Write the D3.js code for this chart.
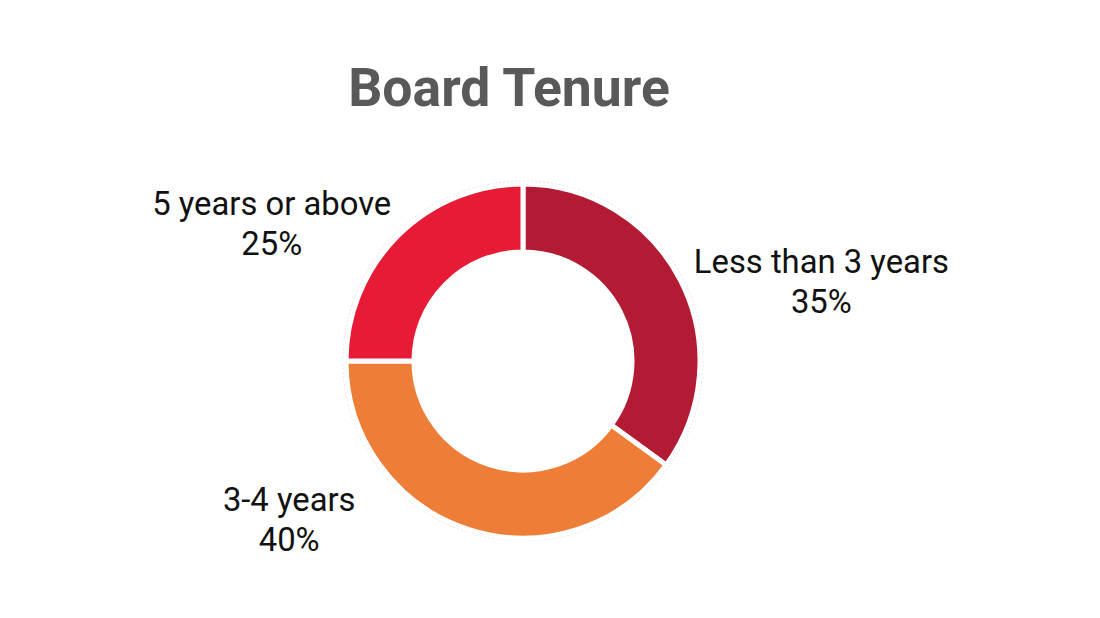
<!DOCTYPE html>
<html><head><meta charset="utf-8">
<script src="https://cdn.jsdelivr.net/npm/d3@7"></script>
<style>html,body{margin:0;padding:0;background:#fff;}svg{display:block;}</style>
</head><body>
<svg id="chart" width="1100" height="618"></svg>
<script>
const categories = ["Less than 3 years", "3-4 years", "5 years or above"];
const values = [35, 40, 25];
const colors = ["#B31B34", "#EE7D37", "#E81B36"];
const titleText = "Board Tenure";

const svg = d3.select("#chart");
const cx = 523, cy = 361, R = 177, r = 109;

svg.append("text").attr("x", 509).attr("y", 106).attr("text-anchor", "middle")
  .attr("font-family", "Roboto").attr("font-weight", 700).attr("font-size", 53.5)
  .attr("fill", "#595959").text(titleText);

const data = categories.map((c, i) => ({cat: c, value: values[i], color: colors[i]}));
const pie = d3.pie().value(d => d.value).sort(null);
const arcs = pie(data);
const arc = d3.arc().innerRadius(r).outerRadius(R);

const g = svg.append("g").attr("transform", `translate(${cx},${cy})`);
g.append("circle").attr("r", R + 3).attr("fill", "none").attr("stroke", "#e4e4e4")
  .attr("stroke-width", 1).attr("stroke-dasharray", "2,2");
g.append("circle").attr("r", r - 1).attr("fill", "none").attr("stroke", "#e8e8e8")
  .attr("stroke-width", 1).attr("stroke-dasharray", "2,2");
g.selectAll("path.slice").data(arcs).enter().append("path")
  .attr("class", "slice").attr("d", arc).attr("fill", d => d.data.color)
  .attr("stroke", "#fff").attr("stroke-width", 5).attr("stroke-linejoin", "miter");

// label placement: angle (deg, clockwise from top) and radius of text-block center
const labelPlace = [[77.2, 306], [234.0, 289], [296.6, 281]];
const fs = 32.8, lh = 39.5;
arcs.forEach((d, i) => {
  const a = labelPlace[i][0] * Math.PI / 180, rr = labelPlace[i][1];
  const x = Math.sin(a) * rr, y = -Math.cos(a) * rr;
  const t = g.append("text").attr("text-anchor", "middle")
    .attr("font-family", "Roboto").attr("font-size", fs).attr("fill", "#111");
  t.append("tspan").attr("x", x).attr("y", y - lh / 2).text(d.data.cat);
  t.append("tspan").attr("x", x).attr("y", y + lh / 2).text(d3.format(".0f")(d.data.value) + "%");
});
</script>
</body></html>
